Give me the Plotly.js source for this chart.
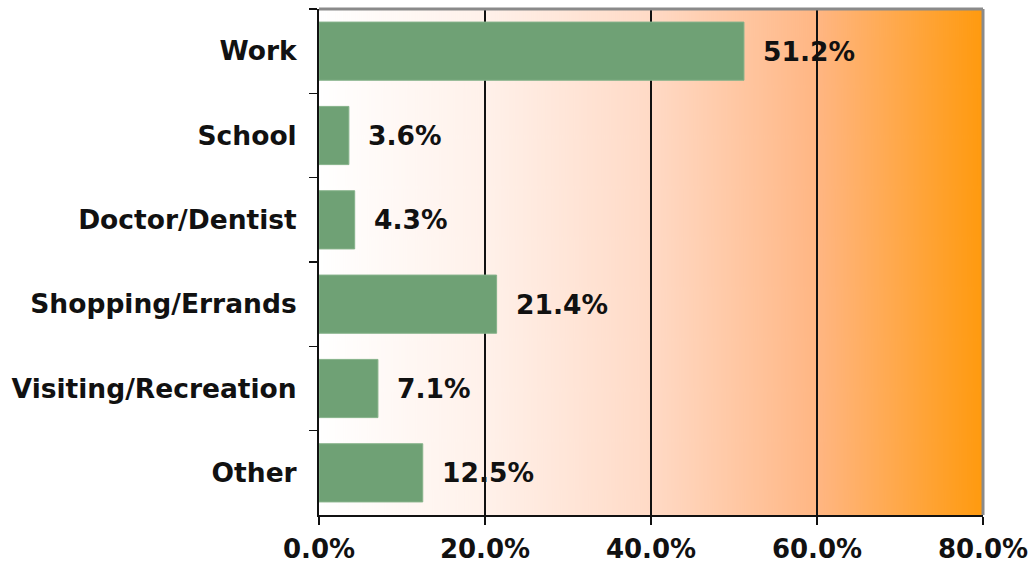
<!DOCTYPE html>
<html>
<head>
<meta charset="utf-8">
<script src="https://cdn.plot.ly/plotly-3.0.1.min.js"></script>
<style>html,body{margin:0;padding:0;background:#fff;}#chart{width:1035px;height:567px;}</style>
</head>
<body>
<div id="chart"></div>
<script>
// Data
const categories = ["Work", "School", "Doctor/Dentist", "Shopping/Errands", "Visiting/Recreation", "Other"];
const shares = [51.2, 3.6, 4.3, 21.4, 7.1, 12.5];
const shareLabels = ["51.2%", "3.6%", "4.3%", "21.4%", "7.1%", "12.5%"];
const xTickVals = [0, 20, 40, 60, 80];
const xTickText = ["0.0%", "20.0%", "40.0%", "60.0%", "80.0%"];

// gradient background image
const cv = document.createElement('canvas');
cv.width = 664; cv.height = 10;
const ctx = cv.getContext('2d');
const g = ctx.createLinearGradient(0, 0, 664, 0);
g.addColorStop(0, '#FFFFFF');
g.addColorStop(0.25, '#FFF1EA');
g.addColorStop(0.5, '#FFDAC6');
g.addColorStop(0.75, '#FFB683');
g.addColorStop(1, '#FF9A0E');
ctx.fillStyle = g;
ctx.fillRect(0, 0, 664, 10);
const bgURL = cv.toDataURL();

const font = {family: 'DejaVu Sans', weight: 700, color: '#111111'};

const trace = {
  type: 'bar',
  orientation: 'h',
  y: categories,
  x: shares,
  marker: {color: '#6FA175', line: {color: '#86B28A', width: 1}},
  hoverinfo: 'skip'
};

const annotations = categories.map((c, i) => ({
  x: shares[i], y: c, xref: 'x', yref: 'y',
  text: shareLabels[i], showarrow: false,
  xanchor: 'left', yanchor: 'middle', xshift: 17,
  font: Object.assign({}, font, {size: 26.5})
}));

const layout = {
  width: 1035, height: 567,
  margin: {l: 319, r: 52, t: 9, b: 52},
  paper_bgcolor: '#ffffff',
  plot_bgcolor: 'rgba(0,0,0,0)',
  showlegend: false,
  bargap: 0.31,
  xaxis: {
    range: [0, 80], tickvals: xTickVals, ticktext: xTickText,
    showgrid: true, gridcolor: '#111111', gridwidth: 1.3,
    zeroline: false, showline: true, linecolor: '#111111', linewidth: 2,
    ticks: 'outside', ticklen: 8, tickwidth: 1.5, tickcolor: '#111111',
    tickfont: Object.assign({}, font, {size: 26}),
    ticklabelstandoff: 2,
    fixedrange: true
  },
  yaxis: {
    autorange: 'reversed', type: 'category',
    showgrid: false, zeroline: false, showline: true, linecolor: '#111111', linewidth: 2,
    ticks: 'outside', tickson: 'boundaries', ticklen: 8, tickwidth: 1.5, tickcolor: '#111111',
    tickfont: Object.assign({}, font, {size: 26.5}),
    ticklabelstandoff: 15,
    fixedrange: true
  },
  images: [{
    source: bgURL, xref: 'paper', yref: 'paper', x: 0, y: 1,
    sizex: 1, sizey: 1, sizing: 'stretch', xanchor: 'left', yanchor: 'top', layer: 'below'
  }],
  shapes: [
    {type: 'line', xref: 'paper', yref: 'paper', x0: 0, x1: 1, y0: 1, y1: 1, line: {color: '#8A8A8A', width: 3}},
    {type: 'line', xref: 'paper', yref: 'paper', x0: 1, x1: 1, y0: 0, y1: 1, line: {color: '#8A8A8A', width: 3}}
  ],
  annotations: annotations
};

Plotly.newPlot('chart', [trace], layout, {displayModeBar: false, staticPlot: true});
</script>
</body>
</html>
